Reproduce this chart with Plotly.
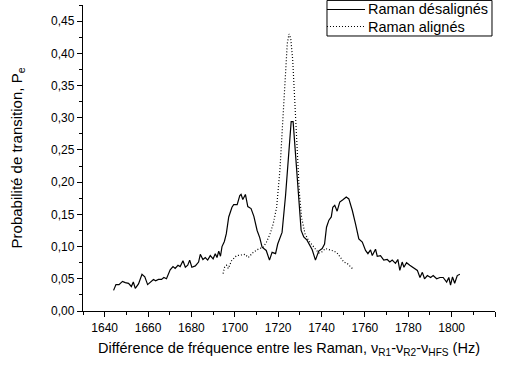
import plotly.graph_objects as go

# Transition probability vs Raman frequency difference
freq_desalignes = [
    1644.1, 1645.2, 1646.6, 1648.2, 1649.5, 1651.0, 1652.3, 1653.2, 1654.1, 1655.6,
    1657.2, 1658.5, 1659.8, 1661.2, 1662.5, 1663.5, 1664.8, 1666.2, 1667.3, 1668.5,
    1670.2, 1671.5, 1672.5, 1673.8, 1674.8, 1676.1, 1677.2, 1678.3, 1679.2, 1680.2,
    1681.8, 1683.3, 1684.1, 1685.3, 1686.4, 1687.5, 1688.7, 1690.0, 1691.0, 1691.8,
    1692.6, 1693.4, 1694.1, 1695.2, 1696.1, 1697.2, 1698.7, 1699.5, 1701.1, 1702.3,
    1702.9, 1703.7, 1704.9, 1706.0, 1707.5, 1708.8, 1710.3, 1711.5, 1712.6, 1714.5,
    1716.0, 1717.2, 1718.8, 1719.8, 1721.1, 1721.8, 1723.4, 1724.9, 1726.0, 1726.9,
    1728.8, 1730.6, 1731.8, 1733.3, 1735.7, 1737.2, 1738.7, 1740.3, 1741.4, 1742.3,
    1743.4, 1744.5, 1745.2, 1746.1, 1747.2, 1748.4, 1750.0, 1751.4, 1752.6, 1754.2,
    1755.7, 1757.2, 1758.8, 1760.3, 1761.4, 1762.6, 1763.4, 1764.9, 1765.7, 1767.2,
    1768.7, 1770.3, 1771.5, 1772.6, 1774.1, 1775.2, 1776.1, 1777.2, 1778.0, 1779.2,
    1780.7, 1782.6, 1784.2, 1785.4, 1786.5, 1787.5, 1788.8, 1790.3, 1791.5, 1793.1,
    1794.6, 1796.1, 1797.7, 1798.7, 1799.5, 1800.4, 1801.4, 1802.6, 1803.8,
]
proba_desalignes = [
    0.032, 0.041, 0.041, 0.046, 0.044, 0.043, 0.038, 0.045, 0.035, 0.042,
    0.057, 0.053, 0.041, 0.046, 0.049, 0.047, 0.049, 0.049, 0.052, 0.050,
    0.064, 0.069, 0.066, 0.071, 0.069, 0.078, 0.068, 0.071, 0.079, 0.068,
    0.070, 0.076, 0.088, 0.080, 0.083, 0.079, 0.086, 0.081, 0.089, 0.083,
    0.093, 0.085, 0.100, 0.108, 0.120, 0.146, 0.161, 0.165, 0.165, 0.179,
    0.181, 0.173, 0.181, 0.162, 0.159, 0.147, 0.125, 0.114, 0.099, 0.094,
    0.079, 0.091, 0.089, 0.104, 0.117, 0.122, 0.179, 0.244, 0.294, 0.294,
    0.203, 0.125, 0.115, 0.110, 0.095, 0.079, 0.093, 0.097, 0.104, 0.130,
    0.141, 0.146, 0.161, 0.164, 0.155, 0.169, 0.173, 0.177, 0.174, 0.156,
    0.135, 0.112, 0.107, 0.094, 0.089, 0.095, 0.086, 0.096, 0.085, 0.086,
    0.079, 0.080, 0.076, 0.079, 0.074, 0.080, 0.063, 0.076, 0.068, 0.075,
    0.071, 0.066, 0.063, 0.052, 0.060, 0.050, 0.055, 0.052, 0.055, 0.050,
    0.052, 0.052, 0.045, 0.052, 0.040, 0.053, 0.043, 0.055, 0.057,
]

freq_alignes = [
    1694.6, 1695.3, 1696.2, 1697.0, 1698.5, 1700.8, 1703.1, 1704.8, 1706.2, 1708.5,
    1710.8, 1713.1, 1714.6, 1716.2, 1717.7, 1719.3, 1720.8, 1722.0, 1723.1, 1724.2,
    1725.0, 1725.8, 1726.7, 1727.8, 1728.8, 1729.8, 1730.8, 1732.4, 1733.9, 1735.5,
    1737.0, 1738.7, 1740.3, 1741.8, 1743.8, 1745.7, 1747.2, 1748.8, 1750.3, 1751.8,
    1753.0, 1754.2,
]
proba_alignes = [
    0.058, 0.068, 0.071, 0.066, 0.078, 0.086, 0.087, 0.088, 0.083, 0.091,
    0.096, 0.099, 0.107, 0.119, 0.135, 0.161, 0.218, 0.285, 0.348, 0.415,
    0.430, 0.423, 0.390, 0.323, 0.245, 0.183, 0.145, 0.120, 0.110, 0.104,
    0.097, 0.090, 0.092, 0.097, 0.095, 0.093, 0.090, 0.083, 0.076, 0.074,
    0.070, 0.066,
]

series_names = ["Raman désalignés", "Raman alignés"]
series_dash = ["solid", "1px,2px"]

FONT = "Liberation Sans, Arial, sans-serif"

fig = go.Figure()
for name, xs, ys, dash in zip(series_names,
                              [freq_desalignes, freq_alignes],
                              [proba_desalignes, proba_alignes],
                              series_dash):
    fig.add_trace(go.Scatter(
        x=xs, y=ys, mode="lines", name=name, showlegend=False,
        line=dict(color="black", width=1.2, dash=dash),
    ))

axis_common = dict(
    showgrid=False, zeroline=False, showline=True,
    linecolor="black", linewidth=1.3,
    ticks="outside", ticklen=5, tickwidth=1.3, tickcolor="black",
    tickfont=dict(family=FONT, size=12, color="black"),
    mirror=False,
)

fig.update_xaxes(
    range=[1630, 1820], dtick=20, tick0=1640,
    minor=dict(ticks="outside", ticklen=3, dtick=10, tick0=1630, tickcolor="black", tickwidth=1.3),
    title=dict(
        text="Différence de fréquence entre les Raman, ν<sub>R1</sub>-ν<sub>R2</sub>-ν<sub>HFS</sub> (Hz)",
        font=dict(family=FONT, size=14.5, color="black"), standoff=9,
    ),
    **axis_common,
)
fig.update_yaxes(
    range=[0, 0.475], dtick=0.05, tick0=0, tickformat=".2f",
    minor=dict(ticks="outside", ticklen=3, dtick=0.025, tick0=0, tickcolor="black", tickwidth=1.3),
    title=dict(
        text="Probabilité de transition, P<sub>e</sub>",
        font=dict(family=FONT, size=15, color="black"), standoff=24,
    ),
    **axis_common,
)

# Compact boxed legend in the upper-right corner (paper coordinates)
box_x0, box_x1 = 0.5922, 0.9927
box_y0, box_y1 = 0.8987, 1.0150
row_y = [0.9853, 0.9297]
sample_x0, sample_x1 = 0.5922, 0.6845
text_x = 0.6869

shapes = [dict(type="rect", xref="paper", yref="paper",
               x0=box_x0, x1=box_x1, y0=box_y0, y1=box_y1,
               line=dict(color="black", width=1), fillcolor="white", layer="above")]
annotations = []
for name, dash, yy in zip(series_names, series_dash, row_y):
    shapes.append(dict(type="line", xref="paper", yref="paper",
                       x0=sample_x0, x1=sample_x1, y0=yy, y1=yy,
                       line=dict(color="black", width=1.2, dash=dash), layer="above"))
    annotations.append(dict(xref="paper", yref="paper", x=text_x, y=yy,
                            xanchor="left", yanchor="middle", text=name, showarrow=False,
                            font=dict(family=FONT, size=14.5, color="black")))

fig.update_layout(
    width=505, height=367,
    margin=dict(l=83, r=10, t=5, b=56),
    paper_bgcolor="white", plot_bgcolor="white",
    separators=",.",
    font=dict(family=FONT, color="black"),
    showlegend=False,
    shapes=shapes,
    annotations=annotations,
)

fig.write_html("out.html")
